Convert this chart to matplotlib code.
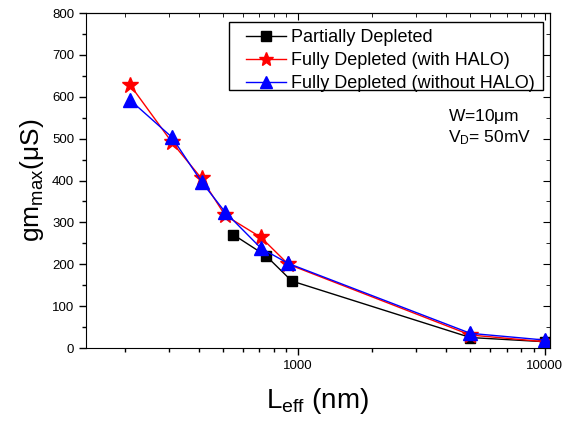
import matplotlib
matplotlib.use("Agg")
import matplotlib.pyplot as plt
from matplotlib.patches import Rectangle
from matplotlib.ticker import MultipleLocator, LogLocator, NullFormatter

plt.rcParams["font.family"] = ["Liberation Sans", "DejaVu Sans"]
plt.rcParams["mathtext.fontset"] = "custom"
plt.rcParams["mathtext.rm"] = "Liberation Sans"
plt.rcParams["mathtext.it"] = "Liberation Sans"

# Partially depleted
pd_leff = [548, 745, 946, 5000, 10000]
pd_gm = [271, 220, 160, 25, 15]

# Fully depleted with HALO
halo_leff = [210, 309, 408, 508, 711, 916, 5000, 10000]
halo_gm = [628, 492, 405, 317, 264, 200, 31, 15]

# Fully depleted without HALO
nohalo_leff = [210, 309, 408, 508, 711, 916, 5000, 10000]
nohalo_gm = [592, 504, 397, 325, 238, 202, 35, 19]

fig = plt.figure(figsize=(5.79, 4.23), dpi=100)
ax = fig.add_axes([0.1485, 0.1773, 0.8015, 0.7917])

ax.plot(pd_leff, pd_gm, color="black", lw=1, marker="s",
        markersize=7.5, label="Partially Depleted")
ax.plot(halo_leff, halo_gm, color="red", lw=1, marker="*",
        markersize=12, label="Fully Depleted (with HALO)")
ax.plot(nohalo_leff, nohalo_gm, color="blue", lw=1, marker="^",
        markersize=10, label="Fully Depleted (without HALO)")

ax.set_xscale("log")
ax.set_xlim(139, 10500)
ax.set_ylim(0, 800)

ax.yaxis.set_major_locator(MultipleLocator(100))
ax.yaxis.set_minor_locator(MultipleLocator(50))
ax.xaxis.set_major_locator(LogLocator(base=10, numticks=10))
ax.xaxis.set_minor_locator(LogLocator(base=10, subs=range(2, 10), numticks=20))
ax.xaxis.set_minor_formatter(NullFormatter())
ax.xaxis.set_major_formatter(plt.FuncFormatter(lambda v, p: f"{int(v)}"))

ax.tick_params(which="both", direction="out", labelsize=9.5)
ax.tick_params(which="major", length=5, width=1)
ax.tick_params(which="minor", length=3, width=1)

# mirrored axes with inward ticks
top = ax.secondary_xaxis("top")
top.xaxis.set_major_locator(LogLocator(base=10, numticks=10))
top.xaxis.set_minor_locator(LogLocator(base=10, subs=range(2, 10), numticks=20))
top.tick_params(which="both", direction="in", labeltop=False)
top.tick_params(which="major", length=5)
top.tick_params(which="minor", length=3)

right = ax.secondary_yaxis("right")
right.yaxis.set_major_locator(MultipleLocator(100))
right.yaxis.set_minor_locator(MultipleLocator(50))
right.tick_params(which="both", direction="in", labelright=False)
right.tick_params(which="major", length=5)
right.tick_params(which="minor", length=3)

ax.set_xlabel(r"L$_{\mathrm{eff}}$ (nm)", fontsize=20, labelpad=10)
ax.set_ylabel(r"gm$_{\mathrm{max}}$($\mu$S)", fontsize=19, labelpad=4)

# legend box drawn separately (Origin-style wide left margin)
ax.add_patch(Rectangle((0.308, 0.770), 0.677, 0.203,
                       transform=ax.transAxes, facecolor="white",
                       edgecolor="black", lw=1, zorder=4))
ax.legend(loc="upper left", bbox_to_anchor=(0.345, 0.952),
          borderaxespad=0, borderpad=0, fontsize=13, frameon=False,
          handlelength=2.2, handletextpad=0.3, labelspacing=0.33,
          markerscale=0.9)

ax.text(0.78, 0.69, r"W=10$\mu$m", transform=ax.transAxes,
        fontsize=12.5, va="center")
ax.text(0.78, 0.627, r"V$_{\mathrm{D}}$= 50mV", transform=ax.transAxes,
        fontsize=12.5, va="center")

fig.savefig("out.png", dpi=100)
